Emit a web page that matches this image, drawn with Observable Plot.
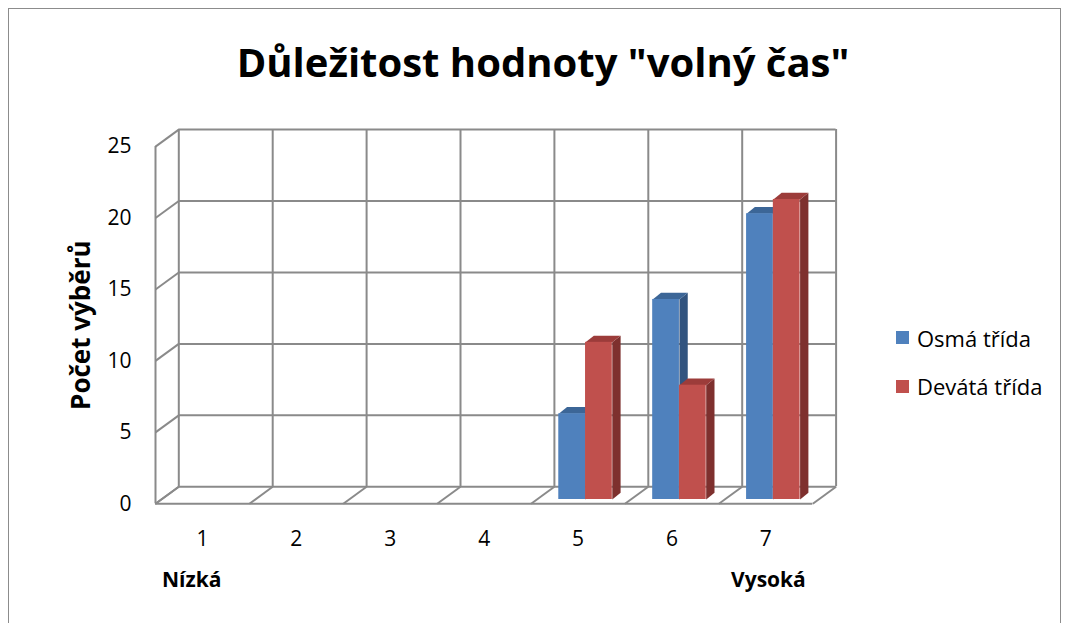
<!DOCTYPE html>
<html><head><meta charset="utf-8">
<script src="https://cdn.jsdelivr.net/npm/d3@7"></script>
<script src="https://cdn.jsdelivr.net/npm/@observablehq/plot@0.6"></script>
<style>
body{margin:0;background:#fff;font-family:"Open Sans",sans-serif;color:#000;}
#wrap{position:relative;width:1066px;height:623px;overflow:hidden;background:#fff;}
#border{position:absolute;left:8px;top:8px;width:1053px;height:640px;border:1px solid #8c8c8c;box-sizing:border-box;}
#title{position:absolute;left:10px;top:0;width:1066px;height:110px;line-height:124px;text-align:center;font-size:40px;font-weight:bold;white-space:nowrap;}
#chart{position:absolute;left:0;top:110px;}
.leg{position:absolute;left:896px;display:flex;align-items:center;font-size:22px;white-space:nowrap;}
.leg span.sw{display:inline-block;width:13px;height:13px;margin-right:8px;}
</style></head>
<body>
<div id="wrap">
  <div id="border"></div>
  <div id="title"></div>
  <div id="chart"></div>
  <div id="legend"></div>
</div>
<script>
// ---- data ----
const title = 'Důležitost hodnoty "volný čas"';
const categories = ["1", "2", "3", "4", "5", "6", "7"];
const seriesNames = ["Osmá třída", "Devátá třída"];
const osma = [0, 0, 0, 0, 6, 14, 20];
const devata = [0, 0, 0, 0, 11, 8, 21];
const yTicks = [0, 5, 10, 15, 20, 25];
const yTitle = "Počet výběrů";
const endLabels = ["Nízká", "Vysoká"];

// ---- styles ----
const colors = [
  {front: "#4F81BD", top: "#3C6697", side: "#32547F"},
  {front: "#C0504D", top: "#9C3C3A", side: "#7E302E"}
];
const grid = "#8a8a8a";

// ---- geometry (pixels) ----
const W = 880, H = 513;
const mL = 155, mR = 67.7, mT = 36.1, mB = 119.7;
const pxX = (W - mL - mR) / categories.length;
const pxY = (H - mT - mB) / 25;
const wallDX = 23.3, wallDY = 17;          // depth of back wall
const barDX = 5.8, barDY = 4.3;            // front face of bars
const barDepthX = 8.3, barDepthY = 6.7;    // bar depth
const wdx = wallDX / pxX, wdy = wallDY / pxY;
const bdx = barDepthX / pxX, bdy = barDepthY / pxY;
const slots = [[0.233, 0.518], [0.518, 0.803]];
const yTitleOffset = 74;                    // px left of the axis

document.getElementById("title").textContent = title;

const bounds = d3.range(categories.length + 1);
const series = [osma, devata];

function barsOf(s) {
  return series[s].map((v, i) => ({i, v, a: i + slots[s][0], b: i + slots[s][1]})).filter(d => d.v > 0);
}
function sidePolys(s) {
  const out = [];
  barsOf(s).forEach((d, k) => {
    [[d.b, 0], [d.b, d.v], [d.b + bdx, d.v + bdy], [d.b + bdx, bdy]].forEach(p => out.push({id: k, x: p[0], y: p[1]}));
  });
  return out;
}
function topPolys(s) {
  const out = [];
  barsOf(s).forEach((d, k) => {
    [[d.a, d.v], [d.b, d.v], [d.b + bdx, d.v + bdy], [d.a + bdx, d.v + bdy]].forEach(p => out.push({id: k, x: p[0], y: p[1]}));
  });
  return out;
}

const barMarks = [];
[0, 1].forEach(s => {
  barMarks.push(Plot.line(sidePolys(s), {x: "x", y: "y", z: "id", fill: colors[s].side, stroke: "none", dx: barDX, dy: -barDY}));
  barMarks.push(Plot.line(topPolys(s), {x: "x", y: "y", z: "id", fill: colors[s].top, stroke: "none", dx: barDX, dy: -barDY}));
  barMarks.push(Plot.rectY(barsOf(s), {x1: "a", x2: "b", y1: 0, y2: "v", fill: colors[s].front, dx: barDX, dy: -barDY, inset: 0}));
});

const plot = Plot.plot({
  width: W, height: H,
  marginLeft: mL, marginRight: mR, marginTop: mT, marginBottom: mB,
  x: {domain: [0, categories.length], axis: null},
  y: {domain: [0, 25], axis: null},
  style: {fontFamily: "'Open Sans', sans-serif", color: "#000", background: "transparent"},
  marks: [
    // back wall
    Plot.ruleY(yTicks, {x1: 0, x2: categories.length, dx: wallDX, dy: -wallDY, stroke: grid, strokeWidth: 2}),
    Plot.ruleX(bounds, {y1: 0, y2: 25, dx: wallDX, dy: -wallDY, stroke: grid, strokeWidth: 2}),
    // left wall
    Plot.ruleX([0], {y1: 0, y2: 25, stroke: grid, strokeWidth: 2}),
    Plot.link(yTicks, {x1: 0, y1: d => d, x2: wdx, y2: d => d + wdy, stroke: grid, strokeWidth: 2}),
    // floor
    Plot.ruleY([0], {x1: 0, x2: categories.length, stroke: grid, strokeWidth: 2}),
    Plot.link(bounds, {x1: d => d, y1: 0, x2: d => d + wdx, y2: wdy, stroke: grid, strokeWidth: 2}),
    // bars
    ...barMarks,
    // y tick labels
    Plot.text(yTicks, {x: 0, y: d => d, text: d => String(d), textAnchor: "end", dx: -24, fontSize: 21}),
    // x tick labels
    Plot.text(categories, {x: (d, i) => i + 0.5, y: 0, text: d => d, dy: 35, fontSize: 21}),
    // scale-end labels
    Plot.text([endLabels[0]], {x: 0, y: 0, text: d => d, textAnchor: "start", dx: 6.5, dy: 76, fontSize: 21, fontWeight: "bold"}),
    Plot.text([endLabels[1]], {x: categories.length, y: 0, text: d => d, textAnchor: "end", dx: -7, dy: 76, fontSize: 21, fontWeight: "bold"}),
    // y title
    Plot.text([yTitle], {x: -yTitleOffset / pxX, y: 12.5, text: d => d, rotate: -90, fontSize: 26, fontWeight: "bold"})
  ]
});
document.getElementById("chart").appendChild(plot);

// legend
const legY = [337.5, 386];
const leg = document.getElementById("legend");
seriesNames.forEach((n, s) => {
  const el = document.createElement("div");
  el.className = "leg";
  el.style.top = (legY[s] - 14) + "px";
  el.style.height = "28px";
  el.innerHTML = `<span class="sw" style="background:${colors[s].front}"></span><span>${n}</span>`;
  leg.appendChild(el);
});
</script>
</body></html>
